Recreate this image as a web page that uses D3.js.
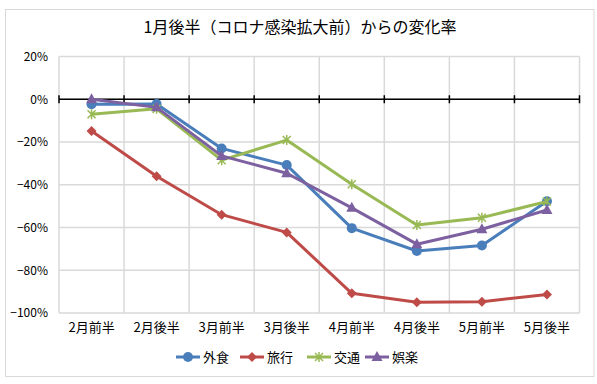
<!DOCTYPE html>
<html>
<head>
<meta charset="utf-8">
<script src="https://cdn.jsdelivr.net/npm/d3@7"></script>
<style>
  body { margin: 0; background: #fff; }
  text { font-family: "Noto Sans CJK JP", "Noto Sans", sans-serif; fill: #000; }
</style>
</head>
<body>
<div id="chart"></div>
<script>
// Data
var categories = ["2月前半", "2月後半", "3月前半", "3月後半", "4月前半", "4月後半", "5月前半", "5月後半"];
var seriesNames = ["外食", "旅行", "交通", "娯楽"];
var gaishoku = [-2.3, -2.2, -23, -30.8, -60.3, -71, -68.4, -47.7];
var ryokou = [-14.9, -36, -54, -62.3, -90.8, -95, -94.7, -91.3];
var koutsuu = [-7, -4.5, -28.5, -19.1, -39.8, -58.8, -55.4, -47.8];
var goraku = [0, -3.8, -26.5, -34.6, -50.8, -67.8, -60.8, -51.8];
var yTicks = [20, 0, -20, -40, -60, -80, -100];

var colors = ["#4a7ebb", "#be4b48", "#98b954", "#7d60a0"];
var markers = ["circle", "diamond", "star", "triangle"];
var values = [gaishoku, ryokou, koutsuu, goraku];

var svgWidth = 597, svgHeight = 384;
var margin = { top: 56.5, right: 17.5, bottom: 71, left: 59 };
var width = svgWidth - margin.left - margin.right;
var height = svgHeight - margin.top - margin.bottom;

var svg = d3.select("#chart").append("svg")
  .attr("width", svgWidth)
  .attr("height", svgHeight);

// outer chart border
svg.append("rect")
  .attr("x", 5.5).attr("y", 9.5)
  .attr("width", 588.5).attr("height", 367)
  .attr("fill", "#fff")
  .attr("stroke", "#d9d9d9");

// title
svg.append("text")
  .attr("x", 300).attr("y", 33)
  .attr("text-anchor", "middle")
  .style("font-size", "16px")
  .text("1月後半（コロナ感染拡大前）からの変化率");

var g = svg.append("g")
  .attr("transform", `translate(${margin.left}, ${margin.top})`);

var x = d3.scaleBand().domain(categories).range([0, width]).paddingInner(0).paddingOuter(0);
var y = d3.scaleLinear().domain([-100, 20]).range([height, 0]);
var cx = d => x(d) + x.bandwidth() / 2;

// gridlines
g.selectAll(".hgrid").data(yTicks).enter().append("line")
  .attr("x1", 0).attr("x2", width)
  .attr("y1", d => y(d)).attr("y2", d => y(d))
  .attr("stroke", "#d9d9d9").attr("stroke-width", 1.5);

var edges = categories.map(c => x(c)).concat([width]);
g.selectAll(".vgrid").data(edges).enter().append("line")
  .attr("x1", d => d).attr("x2", d => d)
  .attr("y1", 0).attr("y2", height)
  .attr("stroke", "#d9d9d9").attr("stroke-width", 1.5);

// y axis labels
g.append("g")
  .call(d3.axisLeft(y).tickValues(yTicks).tickSize(0).tickPadding(11)
    .tickFormat(d => (d < 0 ? "\u2212" + (-d) : d) + "%"))
  .call(a => a.select(".domain").remove())
  .selectAll("text")
  .style("font-size", "12px")
  .style("font-family", "'Noto Sans CJK JP', sans-serif");

// x labels
g.append("g")
  .attr("transform", `translate(0, ${height})`)
  .call(d3.axisBottom(x).tickSize(0).tickPadding(10))
  .call(a => a.select(".domain").remove())
  .selectAll("text")
  .style("font-size", "13px")
  .style("font-family", "'Noto Sans CJK JP', sans-serif");

// zero axis
g.append("line")
  .attr("x1", 0).attr("x2", width)
  .attr("y1", y(0)).attr("y2", y(0))
  .attr("stroke", "#000").attr("stroke-width", 1.5);
g.selectAll(".ztick").data(edges).enter().append("line")
  .attr("x1", d => d).attr("x2", d => d)
  .attr("y1", y(0) - 4).attr("y2", y(0) + 4)
  .attr("stroke", "#000").attr("stroke-width", 1.5);

function drawMarker(sel, type, color) {
  if (type === "circle") {
    sel.append("circle").attr("r", 5).attr("fill", color);
  } else if (type === "diamond") {
    sel.append("path").attr("d", "M0,-5L5,0L0,5L-5,0Z").attr("fill", color);
  } else if (type === "triangle") {
    sel.append("path").attr("d", "M0,-6L5.5,4L-5.5,4Z").attr("fill", color);
  } else {
    sel.append("path").attr("d", "M-4,-4L4,4M-4,4L4,-4M0,-5L0,5")
      .attr("stroke", color).attr("stroke-width", 1.5).attr("fill", "none");
  }
}

var line = d3.line().x((d, i) => cx(categories[i])).y(d => y(d));

values.forEach(function(vals, s) {
  g.append("path")
    .datum(vals)
    .attr("d", line)
    .attr("fill", "none")
    .attr("stroke", colors[s])
    .attr("stroke-width", 3)
    .attr("stroke-linejoin", "round");

  g.selectAll(".m" + s).data(vals).enter().append("g")
    .attr("transform", (d, i) => `translate(${cx(categories[i])}, ${y(d)})`)
    .each(function() { drawMarker(d3.select(this), markers[s], colors[s]); });
});

// legend
var legendX = [176, 240, 307, 365];
var legend = svg.selectAll(".legend").data(seriesNames).enter().append("g")
  .attr("transform", (d, i) => `translate(${legendX[i]}, 357)`);
legend.append("line")
  .attr("x1", 0).attr("x2", 24)
  .attr("stroke", (d, i) => colors[i]).attr("stroke-width", 3);
legend.append("g")
  .attr("transform", "translate(12, 0)")
  .each(function(d, i) { drawMarker(d3.select(this), markers[i], colors[i]); });
legend.append("text")
  .attr("x", 27).attr("y", 0).attr("dy", "0.35em")
  .style("font-size", "13px")
  .text(d => d);
</script>
</body>
</html>
